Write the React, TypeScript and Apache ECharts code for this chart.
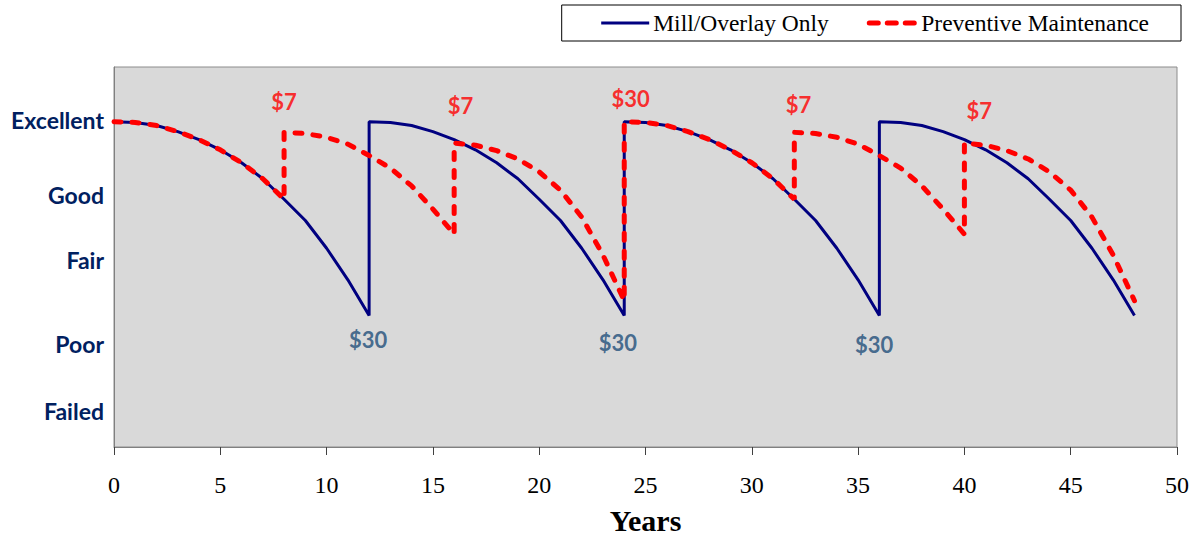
import { useEffect, useRef } from 'react';
import * as echarts from 'echarts';

// Condition index (0 = failed ... 100 = top of plot) vs. years
const millOverlay: [number, number][] = [
  [0, 85.6], [1, 85.4], [2, 84.6], [3, 83.0], [4, 80.9], [5, 78.2], [6, 74.8], [7, 70.6], [8, 65.2], [9, 59.6], [10, 52.3], [11, 44.0], [12, 34.6],
  [12, 85.6], [13, 85.4], [14, 84.6], [15, 83.0], [16, 80.9], [17, 78.2], [18, 74.8], [19, 70.6], [20, 65.2], [21, 59.6], [22, 52.3], [23, 44.0], [24, 34.6],
  [24, 85.6], [25, 85.4], [26, 84.6], [27, 83.0], [28, 80.9], [29, 78.2], [30, 74.8], [31, 70.6], [32, 65.2], [33, 59.6], [34, 52.3], [35, 44.0], [36, 34.6],
  [36, 85.6], [37, 85.4], [38, 84.6], [39, 83.0], [40, 80.9], [41, 78.2], [42, 74.8], [43, 70.6], [44, 65.2], [45, 59.6], [46, 52.3], [47, 44.0], [48, 34.6],
];

const preventive: [number, number][] = [
  [0, 85.6], [1, 85.4], [2, 84.6], [3, 83.0], [4, 80.9], [5, 78.2], [6, 74.8], [7, 70.6], [8, 65.2],
  [8, 82.8], [9, 82.5], [10, 81.5], [11, 79.7], [12, 76.7], [13, 73.4], [14, 68.7], [15, 62.6], [16, 56.0],
  [16, 80.0], [17, 79.4], [18, 78.0], [19, 75.8], [20, 72.4], [21, 67.6], [22, 60.5], [23, 50.5], [24, 38.5],
  [24, 85.6], [25, 85.4], [26, 84.6], [27, 83.0], [28, 80.9], [29, 78.2], [30, 74.8], [31, 70.6], [32, 65.2],
  [32, 82.8], [33, 82.5], [34, 81.5], [35, 79.7], [36, 76.7], [37, 73.4], [38, 68.7], [39, 62.6], [40, 56.0],
  [40, 80.0], [41, 79.4], [42, 78.0], [43, 75.8], [44, 72.4], [45, 67.6], [46, 60.5], [47, 50.5], [48, 38.5],
];

const levelNames = ['Failed', 'Poor', 'Fair', 'Good', 'Excellent'];
const levelValues = [9.5, 27.1, 49.2, 66.3, 86.0];

const pmCostLabels: [number, number, string][] = [
  [8.0, 91.0, '$7'], [16.3, 89.8, '$7'], [24.3, 91.6, '$30'], [32.2, 90.1, '$7'], [40.7, 88.5, '$7'],
];
const millCostLabels: [number, number, string][] = [
  [11.95, 28.2, '$30'], [23.7, 27.6, '$30'], [35.75, 27.1, '$30'],
];

const seriesNames = ['Mill/Overlay Only', 'Preventive Maintenance'];

export default function App() {
  const ref = useRef<HTMLDivElement>(null);
  useEffect(() => {
    const chart = echarts.init(ref.current!, null, { renderer: 'svg' });
    const labelFont = 'Lato, Open Sans, sans-serif';
    chart.setOption({
      animation: false,
      legend: {
        data: [
          { name: seriesNames[0], lineStyle: { width: 3, color: '#000080' } },
          { name: seriesNames[1], lineStyle: { width: 5, color: '#FF0000', type: [9, 9], cap: 'round' } },
        ],
        top: 5,
        right: 17,
        padding: [6, 32, 6, 38],
        itemGap: 38,
        itemWidth: 48,
        itemHeight: 2,
        borderColor: '#000',
        borderWidth: 1,
        backgroundColor: '#fff',
        textStyle: { fontFamily: 'Liberation Serif', fontSize: 23.5, color: '#000', padding: [0, 0, 0, -1], lineHeight: 24 },
      },
      grid: {
        left: 114,
        right: 21,
        top: 67,
        bottom: 93,
        show: true,
        backgroundColor: '#D9D9D9',
        borderColor: '#8C8C8C',
        borderWidth: 1,
      },
      xAxis: {
        type: 'value',
        min: 0,
        max: 50,
        interval: 5,
        axisLine: { show: true, lineStyle: { color: '#808080', width: 1 } },
        axisTick: { show: true, length: 8, lineStyle: { color: '#404040' } },
        splitLine: { show: false },
        axisLabel: { fontFamily: 'Liberation Serif', fontSize: 24, color: '#000', margin: 26 },
        name: 'Years',
        nameLocation: 'middle',
        nameGap: 58,
        nameTextStyle: { fontFamily: 'Liberation Serif', fontSize: 30, fontWeight: 'bold', color: '#000' },
      },
      yAxis: {
        type: 'value',
        min: 0,
        max: 100,
        axisLine: { show: true, lineStyle: { color: '#808080', width: 1 } },
        axisTick: { show: false },
        splitLine: { show: false },
        axisLabel: {
          customValues: levelValues,
          formatter: (v: number) => levelNames[levelValues.indexOf(v)] ?? '',
          fontFamily: labelFont,
          fontWeight: 'bold',
          fontSize: 23,
          color: '#002060',
          margin: 10,
          align: 'right',
        },
      },
      series: [
        {
          name: seriesNames[0],
          type: 'line',
          data: millOverlay,
          symbol: 'none',
          lineStyle: { color: '#000080', width: 3 },
          itemStyle: { color: '#000080' },
          z: 2,
        },
        {
          name: seriesNames[1],
          type: 'line',
          data: preventive,
          symbol: 'none',
          lineStyle: { color: '#FF0000', width: 5, type: [7, 11], cap: 'round' },
          itemStyle: { color: '#FF0000' },
          z: 3,
        },
        {
          name: 'pmCost',
          type: 'scatter',
          silent: true,
          symbolSize: 1,
          itemStyle: { color: 'transparent' },
          data: pmCostLabels.map(([x, y, t]) => ({ value: [x, y], name: t })),
          label: {
            show: true,
            position: 'inside',
            formatter: '{b}',
            fontFamily: labelFont,
            fontWeight: 'bold',
            fontSize: 22,
            color: '#FF0000',
          },
          z: 4,
        },
        {
          name: 'millCost',
          type: 'scatter',
          silent: true,
          symbolSize: 1,
          itemStyle: { color: 'transparent' },
          data: millCostLabels.map(([x, y, t]) => ({ value: [x, y], name: t })),
          label: {
            show: true,
            position: 'inside',
            formatter: '{b}',
            fontFamily: labelFont,
            fontWeight: 'bold',
            fontSize: 22,
            color: '#1F4E79',
          },
          z: 4,
        },
      ],
    });
    return () => chart.dispose();
  }, []);
  return <div ref={ref} style={{ position: 'absolute', left: 0, top: 0, width: 1198, height: 540 }} />;
}
